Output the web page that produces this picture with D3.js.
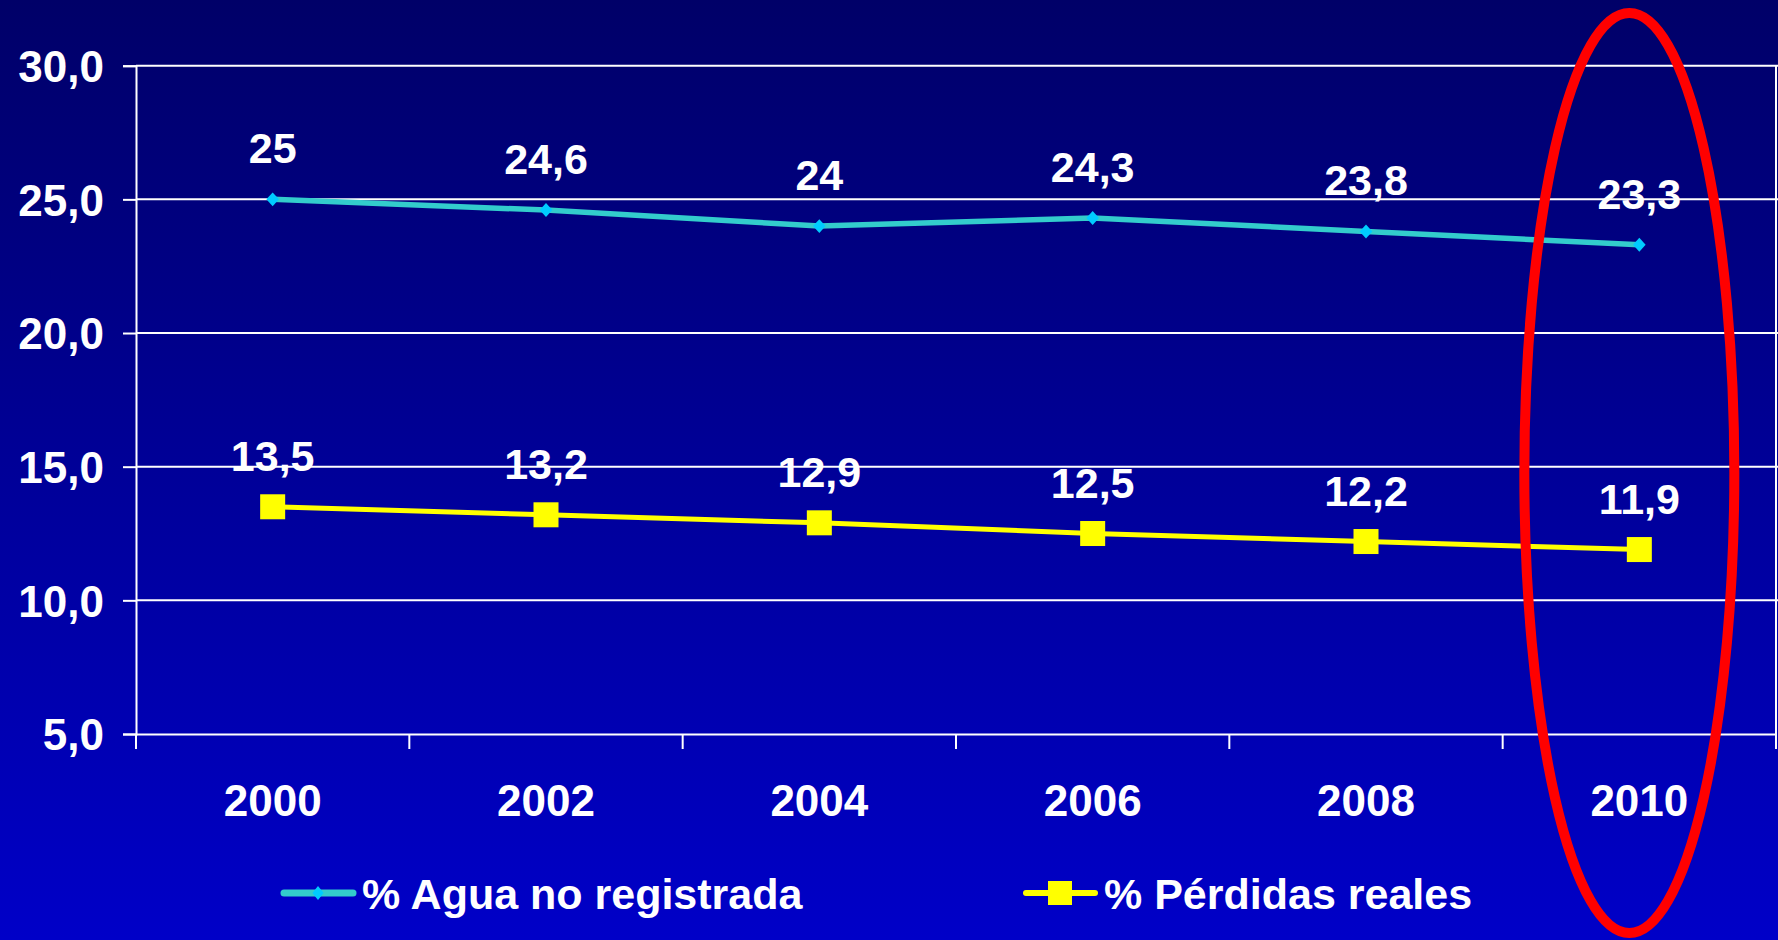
<!DOCTYPE html>
<html>
<head>
<meta charset="utf-8">
<script src="https://cdn.jsdelivr.net/npm/d3@7"></script>
<style>
  html, body { margin: 0; padding: 0; overflow: hidden; }
  svg { display: block; }
  text { font-family: "Liberation Sans", Arial, sans-serif; font-weight: bold; fill: #fff; }
</style>
</head>
<body>
<svg width="1778" height="940"></svg>
<script>
// data
const years = ["2000", "2002", "2004", "2006", "2008", "2010"];
const aguaNoRegistrada = [25, 24.6, 24, 24.3, 23.8, 23.3];
const perdidasReales = [13.5, 13.2, 12.9, 12.5, 12.2, 11.9];
const yTicks = [5, 10, 15, 20, 25, 30];
const seriesNames = ["% Agua no registrada", "% Pérdidas reales"];

var svg = d3.select("svg"),
    width = +svg.attr("width"),
    height = +svg.attr("height");

var margin = {left: 136, right: 2, top: 65.7, bottom: 206};

// background gradient
var defs = svg.append("defs");
var grad = defs.append("linearGradient")
    .attr("id", "bg").attr("x1", 0).attr("y1", 0).attr("x2", 0).attr("y2", 1);
grad.append("stop").attr("offset", "0%").attr("stop-color", "#000068");
grad.append("stop").attr("offset", "100%").attr("stop-color", "#0000C8");
svg.append("rect").attr("width", width).attr("height", height).attr("fill", "url(#bg)");

var x = d3.scaleBand()
    .domain(years)
    .range([margin.left, width - margin.right])
    .padding(0);

var y = d3.scaleLinear()
    .domain([5, 30])
    .range([height - margin.bottom, margin.top]);

var cx = d => x(d) + x.bandwidth() / 2;

// gridlines
svg.append("g")
    .selectAll("line")
    .data(yTicks.filter(t => t > 5))
    .enter()
    .append("line")
    .attr("x1", margin.left)
    .attr("x2", width)
    .attr("y1", d => y(d))
    .attr("y2", d => y(d))
    .attr("stroke", "#fff")
    .attr("stroke-width", 2);

// right border of plot area
svg.append("line")
    .attr("x1", width - margin.right).attr("x2", width - margin.right)
    .attr("y1", y(30)).attr("y2", y(5))
    .attr("stroke", "#fff").attr("stroke-width", 2);

// y axis
var yAxis = svg.append("g")
    .attr("transform", "translate(" + margin.left + ",0)")
    .call(d3.axisLeft(y)
        .tickValues(yTicks)
        .tickSize(13)
        .tickPadding(19)
        .tickFormat(d => d3.format(".1f")(d).replace(".", ",")));
yAxis.select(".domain").attr("stroke", "#fff").attr("stroke-width", 2);
yAxis.selectAll(".tick line").attr("stroke", "#fff").attr("stroke-width", 2);
yAxis.selectAll("text")
    .attr("font-size", 44)
    .attr("font-family", "Liberation Sans, Arial, sans-serif")
    .attr("font-weight", "bold")
    .attr("fill", "#fff")
    .attr("dy", "0.36em");

// x axis (labels centred in each band)
var xAxis = svg.append("g")
    .attr("transform", "translate(0," + y(5) + ")")
    .call(d3.axisBottom(x).tickSize(0).tickPadding(51));
xAxis.select(".domain").attr("stroke", "#fff").attr("stroke-width", 2);
xAxis.selectAll("text")
    .attr("font-size", 44)
    .attr("font-family", "Liberation Sans, Arial, sans-serif")
    .attr("font-weight", "bold")
    .attr("fill", "#fff");

// category boundary ticks
var bounds = years.map(d => x(d)).concat([x.range()[1]]);
svg.append("g")
    .selectAll("line")
    .data(bounds)
    .enter()
    .append("line")
    .attr("x1", d => d).attr("x2", d => d)
    .attr("y1", y(5)).attr("y2", y(5) + 15)
    .attr("stroke", "#fff").attr("stroke-width", 2);

// lines
var line = d3.line()
    .x((d, i) => cx(years[i]))
    .y(d => y(d));

svg.append("path")
    .datum(aguaNoRegistrada)
    .attr("fill", "none")
    .attr("stroke", "#33CCCC")
    .attr("stroke-width", 5.5)
    .attr("d", line);

svg.append("path")
    .datum(perdidasReales)
    .attr("fill", "none")
    .attr("stroke", "#FFFF00")
    .attr("stroke-width", 5)
    .attr("d", line);

// markers (diamond = rotated square)
var diamond = d3.symbol().type(d3.symbolSquare).size(88);

svg.append("g")
    .selectAll("path")
    .data(aguaNoRegistrada)
    .enter()
    .append("path")
    .attr("d", diamond)
    .attr("transform", (d, i) => "translate(" + cx(years[i]) + "," + y(d) + ") scale(0.95,1.05) rotate(45)")
    .attr("fill", "#00CCFF");

svg.append("g")
    .selectAll("rect")
    .data(perdidasReales)
    .enter()
    .append("rect")
    .attr("x", (d, i) => cx(years[i]) - 12.5)
    .attr("y", d => y(d) - 12.5)
    .attr("width", 25)
    .attr("height", 25)
    .attr("fill", "#FFFF00");

// value labels
function labels(data) {
    svg.append("g")
        .selectAll("text")
        .data(data)
        .enter()
        .append("text")
        .attr("x", (d, i) => cx(years[i]))
        .attr("y", d => y(d) - 36)
        .attr("text-anchor", "middle")
        .attr("font-size", 43)
        .text(d => String(d).replace(".", ","));
}
labels(aguaNoRegistrada);
labels(perdidasReales);

// legend
var leg1 = svg.append("g").attr("transform", "translate(284,893)");
leg1.append("line").attr("x1", 0).attr("x2", 69)
    .attr("stroke", "#33CCCC").attr("stroke-width", 7).attr("stroke-linecap", "round");
leg1.append("path").attr("d", diamond).attr("transform", "translate(34,0) scale(0.85,1.05) rotate(45)").attr("fill", "#00CCFF");
leg1.append("text").attr("x", 78).attr("y", 16).attr("font-size", 43).text(seriesNames[0]);

var leg2 = svg.append("g").attr("transform", "translate(1026,893)");
leg2.append("line").attr("x1", 0).attr("x2", 69)
    .attr("stroke", "#FFFF00").attr("stroke-width", 6).attr("stroke-linecap", "round");
leg2.append("rect").attr("x", 22).attr("y", -12).attr("width", 24).attr("height", 24).attr("fill", "#FFFF00");
leg2.append("text").attr("x", 78).attr("y", 16).attr("font-size", 43).text(seriesNames[1]);

// red highlight ellipse around 2010
svg.append("ellipse")
    .attr("cx", cx("2010") - 10)
    .attr("cy", 473)
    .attr("rx", 105)
    .attr("ry", 460)
    .attr("fill", "none")
    .attr("stroke", "#FF0000")
    .attr("stroke-width", 10);
</script>
</body>
</html>
